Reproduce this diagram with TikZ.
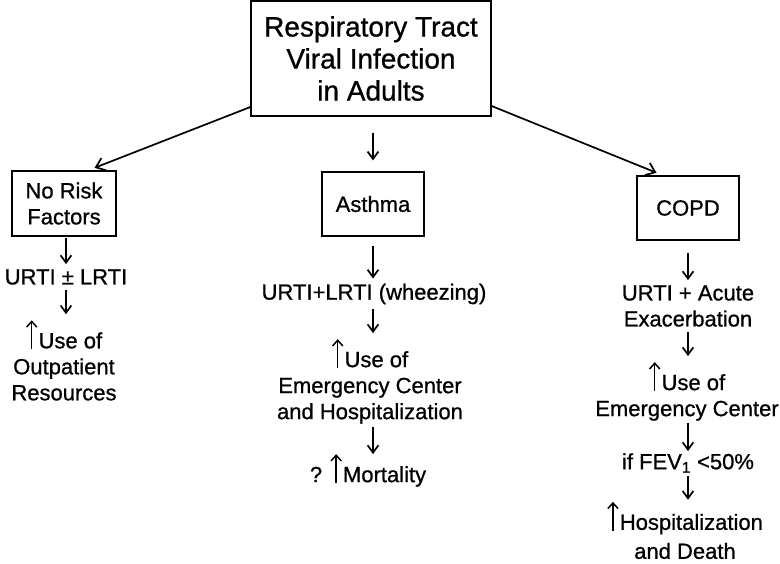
\documentclass[tikz,border=0pt]{standalone}
\usepackage{fontspec}
\setmainfont{Liberation Sans}[FakeBold=0.8]
\usepackage{tikz}
\usetikzlibrary{arrows.meta, positioning}
\newcommand{\incr}{\tikz[baseline=0pt]\draw[line width=1.4pt,-{Straight Barb[length=2mm, width=3.6mm, line width=1.5pt]}] (0pt,-1pt) -- (0pt,28pt);\hspace{1pt}}

\begin{document}
\begin{tikzpicture}[
        x=1pt, y=-1pt,
        box/.style={draw, line width=1.2pt, align=center, inner sep=0pt},
        txt/.style={align=center, inner sep=1pt, font=\fontsize{22}{26}\selectfont},
        line/.style={line width=1.2pt},
        arr/.style={line, shorten <=4pt, shorten >=4pt, -{Straight Barb[length=2.6mm, width=3.8mm, line width=1.7pt]}},
        bigarr/.style={line width=1.7pt, shorten >=7pt, -{Straight Barb[length=3mm, width=4.6mm, line width=1.7pt]}}
    ]
        \useasboundingbox (0,0) rectangle (780,564);

        % root
        \node[box, minimum width=240pt, minimum height=115pt,
              font=\fontsize{28}{32}\selectfont] (root) at (371,58.5)
              {Respiratory Tract\\Viral Infection\\in Adults};

        % groups
        \node[box, txt, minimum width=104pt, minimum height=65pt] (norisk) at (64,203.5) {No Risk\\Factors};
        \node[box, txt, minimum width=102pt, minimum height=64pt] (asthma) at (373,204) {Asthma};
        \node[box, txt, minimum width=102pt, minimum height=64pt] (copd) at (688,208) {COPD};

        \draw[bigarr] (root.west |- 0,107) -- (norisk.north -| 88,0);
        \draw[bigarr] (root.east |- 0,106) -- (copd.north -| 663,0);
        \draw[arr, shorten <=16pt, shorten >=11pt] (root.south -| asthma.north) -- (asthma.north);

        % no risk factors
        \node[txt] (nr1) at (66,277) {URTI ± LRTI};
        \node[txt] (nr2) at (64,360) {\incr Use of\\Outpatient\\Resources};
        \draw[arr, shorten <=1pt] (norisk.south -| nr1.north) -- (nr1.north);
        \draw[arr] (nr1.south) -- (nr1.south |- nr2.north);

        % asthma
        \node[txt] (as1) at (374,294) {URTI+LRTI (wheezing)};
        \node[txt] (as2) at (370,381) {\incr Use of\\Emergency Center\\and Hospitalization};
        \node[txt] (as3) at (368,470) {? \incr Mortality};
        \draw[arr, shorten <=9pt] (asthma.south) -- (asthma.south |- as1.north);
        \draw[arr] (as1.south -| asthma.south) -- (as2.north -| asthma.south);
        \draw[arr, shorten <=2pt, shorten >=-2pt] (as2.south -| asthma.south) -- (as3.north -| asthma.south);

        % copd
        \node[txt] (cp1) at (688,306) {URTI + Acute\\Exacerbation};
        \node[txt] (cp2) at (687,391) {\incr Use of\\Emergency Center};
        \node[txt] (cp3) at (688,463) {if FEV\textsubscript{1} <50\%};
        \node[txt] (cp4) at (685,530) {\incr Hospitalization\\[3pt]and Death};
        \draw[arr, shorten <=12pt] (copd.south) -- (cp1.north -| copd.south);
        \draw[arr] (cp1.south -| copd.south) -- (cp2.north -| copd.south);
        \draw[arr, shorten <=1pt, shorten >=1pt] (cp2.south -| copd.south) -- (cp3.north -| copd.south);
        \draw[arr, shorten <=2pt, shorten >=0pt] (cp3.south -| copd.south) -- (cp4.north -| copd.south);
    \end{tikzpicture}
\end{document}
